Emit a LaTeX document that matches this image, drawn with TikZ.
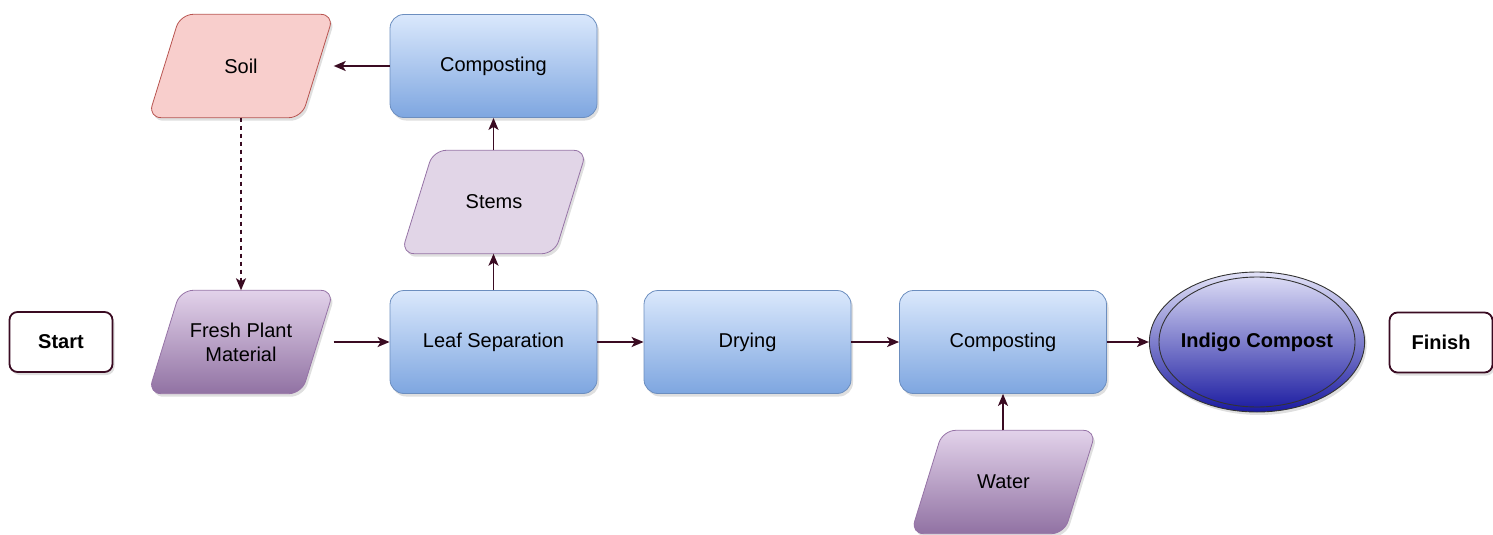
\documentclass[tikz,border=0pt]{standalone}
\usepackage{fontspec}
\setmainfont{Liberation Sans}
\usetikzlibrary{arrows.meta,shapes.geometric,shadows,backgrounds}
\definecolor{arr}{HTML}{3A0B22}
\definecolor{blueline}{HTML}{6C8EBF}
\definecolor{bluetop}{HTML}{DAE8FC}
\definecolor{bluebot}{HTML}{7EA6E0}
\definecolor{purline}{HTML}{9673A6}
\definecolor{purtop}{HTML}{E2D2EA}
\definecolor{purbot}{HTML}{9172A3}
\definecolor{stemfill}{HTML}{E1D5E7}
\definecolor{soilfill}{HTML}{F8CECC}
\definecolor{soilline}{HTML}{B85450}
\definecolor{indtop}{HTML}{E2E2F8}
\definecolor{indbot}{HTML}{1A1AA0}
\tikzset{
  shad/.style={drop shadow={opacity=0.25,shadow xshift=2pt,shadow yshift=-3pt}},
  process/.style={rectangle, rounded corners=14pt, draw=blueline, line width=0.8pt,
    top color=bluetop, bottom color=bluebot, minimum width=207pt, minimum height=103pt,
    inner sep=0pt, shad},
  ioframe/.style={rectangle, minimum width=185pt, minimum height=103pt, inner sep=0pt, align=center},
  terminal/.style={rectangle, rounded corners=8pt, draw=arr, line width=1.8pt, fill=white,
    minimum width=103pt, minimum height=60pt, inner sep=0pt, shad},
  indigo/.style={ellipse, draw=black!80, line width=0.9pt, top color=indtop, bottom color=indbot,
    minimum width=206pt, minimum height=140pt, inner sep=0pt, shad},
  arrow/.style={draw=arr, line width=1.8pt, -{Stealth[length=12pt,width=10pt,inset=3pt]}},
  purpshape/.style={draw=purline, line width=0.8pt, top color=purtop, bottom color=purbot, shad},
  stemshape/.style={draw=purline, line width=0.8pt, fill=stemfill, shad},
  soilshape/.style={draw=soilline, line width=0.8pt, fill=soilfill, shad},
}
\newcommand\paraback[2]{%
  \path[#2, rounded corners=13pt] ([xshift=32pt]#1.north west) -- (#1.north east)
    -- ([xshift=-32pt]#1.south east) -- (#1.south west) -- cycle;}
\begin{document}
\begin{tikzpicture}[x=1pt,y=-1pt,font=\fontsize{20}{24}\selectfont]
\useasboundingbox (0,0) rectangle (1493,535);
\node[terminal] (start) at (61,342) {\textbf{Start}};
\node[ioframe] (fresh) at (241,342) {Fresh Plant\\Material};
\node[ioframe] (soil) at (241,66) {Soil};
\node[process] (leaf) at (493.5,342) {Leaf Separation};
\node[process] (comptop) at (493.5,66) {Composting};
\node[ioframe] (stems) at (494,202) {Stems};
\node[process] (dry) at (747.5,342) {Drying};
\node[process] (compbot) at (1003,342) {Composting};
\node[ioframe] (water) at (1003.5,482) {Water};
\node[indigo] (ind) at (1257,342) {\textbf{Indigo Compost}};
\node[terminal] (finish) at (1441,342.5) {\textbf{Finish}};
\begin{scope}[on background layer]
  \paraback{fresh}{purpshape}
  \paraback{water}{purpshape}
  \paraback{stems}{stemshape}
  \paraback{soil}{soilshape}
\end{scope}
\draw[black!80, line width=0.9pt] (ind.center) ellipse [x radius=98pt, y radius=65pt];
\draw[arrow] (fresh) -- (leaf);
\draw[arrow] (leaf) -- (dry);
\draw[arrow] (dry) -- (compbot);
\draw[arrow] (compbot) -- (ind);
\draw[arrow] (leaf.north) -- (leaf.north |- stems.south);
\draw[arrow] (comptop.south |- stems.north) -- (comptop.south);
\draw[arrow] (comptop) -- (soil);
\draw[arrow, dash pattern=on 4pt off 4pt] (soil) -- (fresh);
\draw[arrow] (water.north -| compbot.south) -- (compbot.south);
\end{tikzpicture}
\end{document}
